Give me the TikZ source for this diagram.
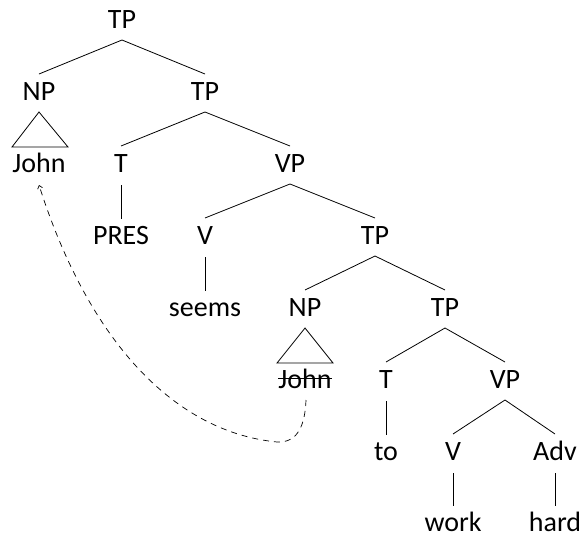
\documentclass[tikz,border=0pt]{standalone}
\usepackage{fontspec}
\setmainfont{Carlito}
\usetikzlibrary{arrows.meta}
\begin{document}
\begin{tikzpicture}[x=1pt,y=-1pt,
  lab/.style={anchor=base,inner sep=0pt,font=\fontsize{28}{34}\selectfont},
  br/.style={line width=0.8pt,black},
  mv/.style={line width=0.7pt,dash pattern=on 6pt off 5pt,-{Straight Barb[length=3pt,width=5pt]}}]
\useasboundingbox (0,0) rectangle (585,536);
% rows (baselines)
\node[lab] (tp1) at (122,28) {TP};
\node[lab] (np1) at (39,100) {NP};
\node[lab] (tp2) at (205,100) {TP};
\node[lab] (john1) at (39,172) {John};
\node[lab] (t1) at (121,172) {T};
\node[lab] (vp1) at (290,172) {VP};
\node[lab] (pres) at (121,244) {PRES};
\node[lab] (v1) at (205,244) {V};
\node[lab] (tp3) at (375,244) {TP};
\node[lab] (seems) at (205,316) {seems};
\node[lab] (np2) at (305,316) {NP};
\node[lab] (tp4) at (445,316) {TP};
\node[lab] (john2) at (305,388) {John};
\node[lab] (t2) at (386,388) {T};
\node[lab] (vp2) at (505,388) {VP};
\node[lab] (to) at (386,460) {to};
\node[lab] (v2) at (453,460) {V};
\node[lab] (adv) at (555,460) {Adv};
\node[lab] (work) at (453,531) {work};
\node[lab] (hard) at (555,531) {hard};
% branches
\newcommand{\brn}[2]{\draw[br] ([yshift=-12pt]#1.base) -- ([yshift=26pt]#2.base);}
\newcommand{\vrt}[2]{\draw[br] ([yshift=-13pt]#1.base) -- ([yshift=25pt]#2.base);}
\brn{tp1}{np1}\brn{tp1}{tp2}
\brn{tp2}{t1}\brn{tp2}{vp1}
\brn{vp1}{v1}\brn{vp1}{tp3}
\brn{tp3}{np2}\brn{tp3}{tp4}
\brn{tp4}{t2}\brn{tp4}{vp2}
\brn{vp2}{v2}\brn{vp2}{adv}
\vrt{t1}{pres}\vrt{v1}{seems}\vrt{t2}{to}\vrt{v2}{work}\vrt{adv}{hard}
% triangles
\draw[br] ([yshift=-12pt]np1.base) -- ([xshift=-27pt,yshift=25pt]john1.base) -- ([xshift=29pt,yshift=25pt]john1.base) -- cycle;
\draw[br] ([yshift=-12pt]np2.base) -- ([xshift=-28pt,yshift=25pt]john2.base) -- ([xshift=28pt,yshift=25pt]john2.base) -- cycle;
% strike
\draw[line width=0.8pt] ([yshift=10pt]john2.base west) -- ([yshift=10pt]john2.base east);
% movement
\draw[mv] ([xshift=1pt,yshift=-12pt]john2.base) .. controls (305,425) and (298,443) .. (277,442)
  .. controls (167,431) and (85,330) .. ([yshift=-13pt]john1.base);
\end{tikzpicture}
\end{document}
